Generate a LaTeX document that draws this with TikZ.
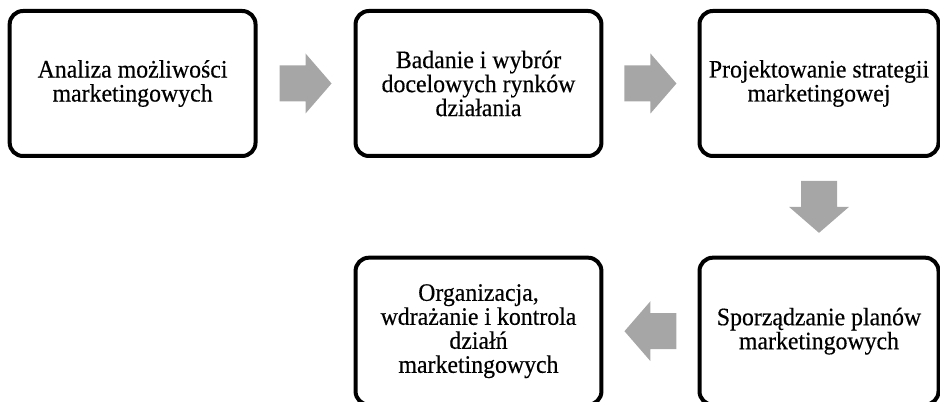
\documentclass[tikz,border=0pt]{standalone}
\usepackage{fontspec}
\setmainfont[FakeStretch=0.95,FakeBold=0.4]{Liberation Serif}
\usetikzlibrary{calc}
\definecolor{arrowgray}{RGB}{166,166,166}
\tikzset{
  stagebox/.style={draw=black, line width=3pt, rounded corners=10pt, fill=white,
    align=center, font=\fontsize{18.8}{18}\selectfont, inner sep=0pt},
  widebox/.style={stagebox, minimum width=184.4pt},
  narrowbox/.style={stagebox, minimum width=179.25pt},
  toprow/.style={minimum height=108.75pt, execute at begin node={\rule{0pt}{20pt}}},
  bottomrow/.style={minimum height=110.25pt},
  blockarrow/.style={fill=arrowgray, draw=none},
}
\newcommand\myblockarrow[2]{\fill[blockarrow, shift={(#1)}, rotate=#2]
  (-26,-18) -- (0,-18) -- (0,-30) -- (26,0) -- (0,30) -- (0,18) -- (-26,18) -- cycle;}
\begin{document}
\begin{tikzpicture}[x=0.75pt,y=-0.75pt]
\useasboundingbox (0,0) rectangle (940,402);
\node[widebox, toprow] (b1) at (132.6,83.5) {Analiza możliwości\\marketingowych};
\node[widebox, toprow] (b2) at (478.5,83.5) {Badanie i wybrór\\docelowych rynków\\działania};
\node[narrowbox, toprow] (b3) at (819,83.5) {Projektowanie strategii\\marketingowej};
\node[narrowbox, bottomrow] (b4) at (819,331.2) {Sporządzanie planów\\marketingowych};
\node[widebox, bottomrow] (b5) at (478.5,331.2) {Organizacja,\\wdrażanie i kontrola\\działń\\marketingowych};
\coordinate (m12) at ($(b1.east)!0.5!(b2.west)$);
\coordinate (m23) at ($(b2.east)!0.5!(b3.west)$);
\coordinate (m34) at ($(b3.south)!0.5!(b4.north)$);
\coordinate (m45) at ($(b5.east)!0.5!(b4.west)$);
\myblockarrow{m12}{0}
\myblockarrow{m23}{0}
\myblockarrow{m34}{-90}
\myblockarrow{m45}{180}
\end{tikzpicture}
\end{document}
